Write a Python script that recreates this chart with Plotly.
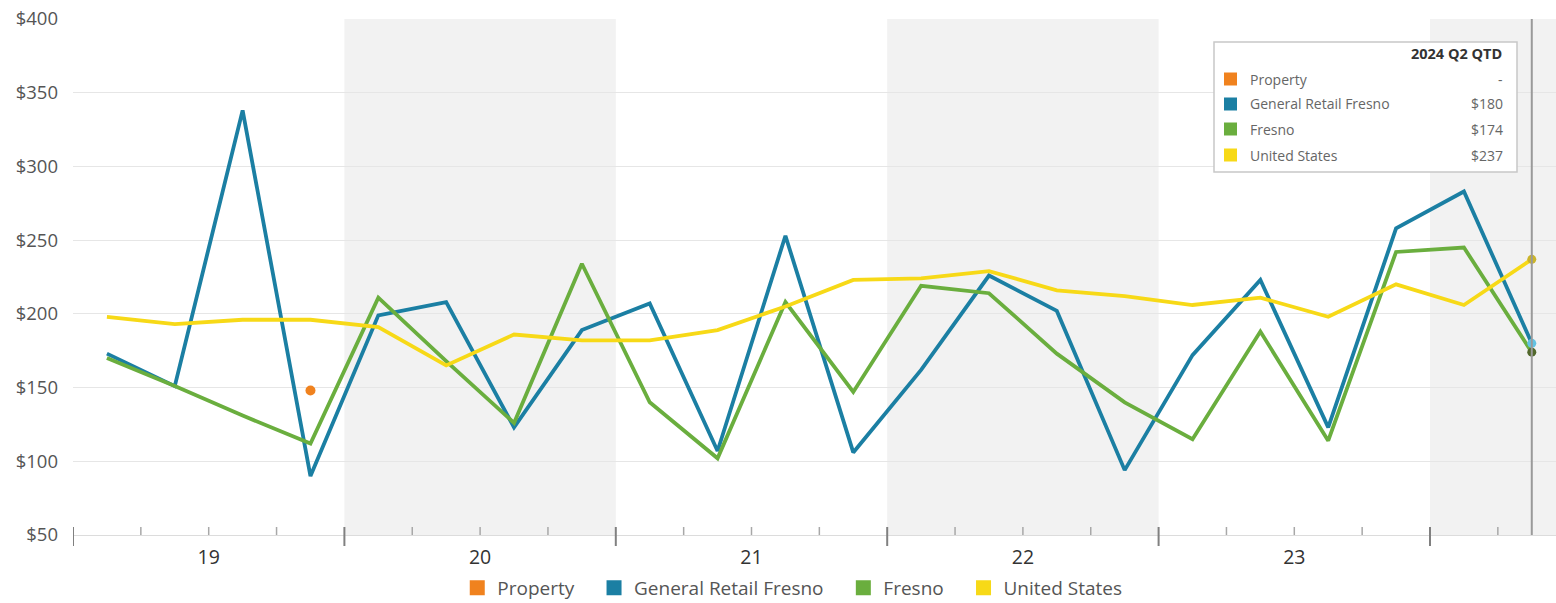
import plotly.graph_objects as go

# ---------------- data ----------------
quarters = ["2019 Q1", "2019 Q2", "2019 Q3", "2019 Q4",
            "2020 Q1", "2020 Q2", "2020 Q3", "2020 Q4",
            "2021 Q1", "2021 Q2", "2021 Q3", "2021 Q4",
            "2022 Q1", "2022 Q2", "2022 Q3", "2022 Q4",
            "2023 Q1", "2023 Q2", "2023 Q3", "2023 Q4",
            "2024 Q1", "2024 Q2"]
year_labels = ["19", "20", "21", "22", "23"]
property_vals = [None, None, None, 148, None, None, None, None, None, None, None,
                 None, None, None, None, None, None, None, None, None, None, None]
general_retail_fresno = [173, 151, 338, 90, 199, 208, 123, 189, 207, 107, 253,
                         106, 162, 226, 202, 94, 172, 223, 123, 258, 283, 180]
fresno = [170, 151, 131, 112, 211, 168, 126, 234, 140, 102, 208,
          147, 219, 214, 173, 140, 115, 188, 114, 242, 245, 174]
united_states = [198, 193, 196, 196, 191, 165, 186, 182, 182, 189, 205,
                 223, 224, 229, 216, 212, 206, 211, 198, 220, 206, 237]
series_names = ["Property", "General Retail Fresno", "Fresno", "United States"]
y_ticks = [50, 100, 150, 200, 250, 300, 350, 400]

# ---------------- style ----------------
COLORS = ["#f0821e", "#1b7fa3", "#6aae3e", "#f7d917"]
FONT = "Open Sans, Liberation Sans, Arial, sans-serif"
W, H = 1556, 603
ML, MR, MT, MB = 73, 0, 19, 68
PW, PH = W - ML - MR, H - MT - MB
QW = 271.4 / 4.0  # pixels per quarter
x = list(range(len(quarters)))
x_max = -0.5 + PW / QW


def pxx(px):
    return (px - ML) / PW


def pxy(py):
    return (H - MB - py) / PH


fig = go.Figure()

series_vals = [property_vals, general_retail_fresno, fresno, united_states]

for i in (1, 2, 3):
    fig.add_trace(go.Scatter(x=x, y=series_vals[i], mode="lines",
                             line=dict(color=COLORS[i], width=3.8),
                             name=series_names[i], showlegend=False,
                             hoverinfo="skip"))
fig.add_trace(go.Scatter(x=x, y=property_vals, mode="markers",
                         marker=dict(color=COLORS[0], size=10),
                         name=series_names[0], showlegend=False))

last = len(quarters) - 1
fig.add_trace(go.Scatter(x=[x[last]] * 3,
                         y=[general_retail_fresno[last], fresno[last], united_states[last]],
                         mode="markers",
                         marker=dict(color=["#62c2e2", "#52682c", "#cbb42a"], size=9),
                         showlegend=False, hoverinfo="skip"))

NB = "\u00a0\u00a0\u00a0"
for i in range(4):
    fig.add_trace(go.Scatter(x=[None], y=[None], mode="markers",
                             marker=dict(symbol="square", size=15, color=COLORS[i]),
                             name=series_names[i] + (NB if i < 3 else ""),
                             showlegend=True))

shapes = []
for k in (1, 3, 5):
    shapes.append(dict(type="rect", xref="x", yref="paper",
                       x0=4 * k - 0.5, x1=min(4 * k + 3.5, x_max + 1), y0=0, y1=1,
                       fillcolor="#f2f2f2", line=dict(width=0), layer="below"))
shapes.append(dict(type="line", xref="x", yref="paper", x0=x[last], x1=x[last],
                   y0=0, y1=1, line=dict(color="#9a9a9a", width=2)))
for b in range(len(quarters) + 1):
    xb = b - 0.5
    if xb > x_max:
        break
    if b % 4 == 0:
        shapes.append(dict(type="line", xref="x", yref="paper", x0=xb, x1=xb,
                           y0=pxy(546), y1=pxy(527),
                           line=dict(color="#808080", width=2)))
    else:
        shapes.append(dict(type="line", xref="x", yref="paper", x0=xb, x1=xb,
                           y0=pxy(535), y1=pxy(527),
                           line=dict(color="#a8a8a8", width=1.5)))

shapes.append(dict(type="rect", xref="paper", yref="paper",
                   x0=pxx(1214), x1=pxx(1517), y0=pxy(172), y1=pxy(42),
                   fillcolor="white", line=dict(color="#c8c8c8", width=1.5)))
annotations = [dict(xref="paper", yref="paper", x=pxx(1504), y=pxy(53),
                    text="<b>%s QTD</b>" % quarters[last], showarrow=False,
                    xanchor="right", yanchor="middle",
                    font=dict(family=FONT, size=14.5, color="#333333"))]
row_y = [79, 104, 129, 155]
for i in range(4):
    v = series_vals[i][last]
    shapes.append(dict(type="rect", xref="paper", yref="paper",
                       x0=pxx(1224), x1=pxx(1237), y0=pxy(row_y[i] + 6.5), y1=pxy(row_y[i] - 6.5),
                       fillcolor=COLORS[i], line=dict(width=0)))
    annotations.append(dict(xref="paper", yref="paper", x=pxx(1248), y=pxy(row_y[i]),
                            text=series_names[i], showarrow=False,
                            xanchor="left", yanchor="middle",
                            font=dict(family=FONT, size=14, color="#666666")))
    annotations.append(dict(xref="paper", yref="paper", x=pxx(1505), y=pxy(row_y[i]),
                            text="-" if v is None else "$%d" % v, showarrow=False,
                            xanchor="right", yanchor="middle",
                            font=dict(family=FONT, size=14, color="#666666")))

fig.update_layout(
    width=W, height=H,
    margin=dict(l=ML, r=MR, t=MT, b=MB, autoexpand=False),
    paper_bgcolor="white", plot_bgcolor="white",
    font=dict(family=FONT),
    shapes=shapes, annotations=annotations,
    showlegend=True,
    legend=dict(orientation="h", x=0.485, xanchor="center", y=pxy(588), yanchor="middle",
                font=dict(family=FONT, size=19, color="#555555"),
                itemclick=False, bgcolor="rgba(0,0,0,0)"),
    xaxis=dict(range=[-0.5, x_max], tickmode="array",
               tickvals=[4 * k + 1.5 for k in range(len(year_labels))],
               ticktext=year_labels, ticks="", showgrid=False, zeroline=False,
               showline=True, linecolor="#dcdcdc", linewidth=1, automargin=False,
               tickfont=dict(family=FONT, size=19.5, color="#333333"),
               ticklabelstandoff=5),
    yaxis=dict(range=[50, 400], tickmode="array", tickvals=y_ticks,
               ticktext=["$%d" % v for v in y_ticks],
               showgrid=True, gridcolor="#e6e6e6", gridwidth=1,
               zeroline=False, showline=False, ticks="", automargin=False,
               tickfont=dict(family=FONT, size=18.5, color="#555555"),
               ticklabelstandoff=14, ticklabeloverflow="allow"),
)

fig.write_html("out.html", config={"displayModeBar": False},
               post_script="document.body.style.margin='0px';")
